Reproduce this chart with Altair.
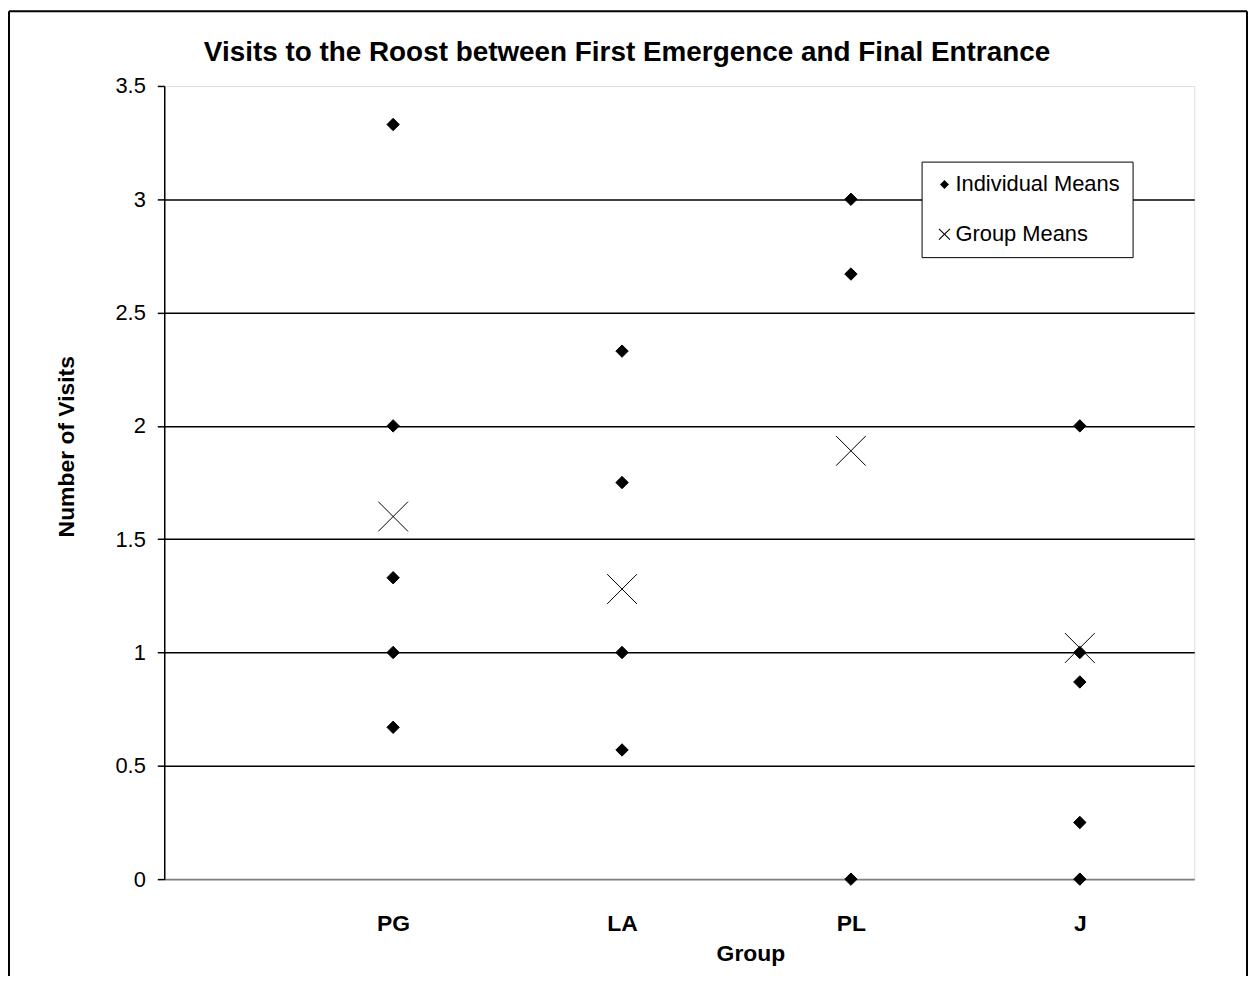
import math
import altair as alt
import pandas as pd

chart_title = "Visits to the Roost between First Emergence and Final Entrance"
groups = ["PG", "LA", "PL", "J"]
group_pos = [1, 2, 3, 4]
pg_vals = [3.33, 2.0, 1.33, 1.0, 0.67]
la_vals = [2.33, 1.75, 1.0, 0.57]
pl_vals = [3.0, 2.67, 0.0]
j_vals = [2.0, 1.0, 0.87, 0.25, 0.0]
group_means = [1.6, 1.28, 1.89, 1.02]
series_names = ["Individual Means", "Group Means"]
y_ticks = [0, 0.5, 1, 1.5, 2, 2.5, 3, 3.5]

rows = []
for pos, vals in zip(group_pos, [pg_vals, la_vals, pl_vals, j_vals]):
    for v in vals:
        rows.append({"x": pos, "y": v, "series": series_names[0], "key": series_names[0]})
for pos, m in zip(group_pos, group_means):
    rows.append({"x": pos, "y": m, "series": series_names[1], "key": series_names[1]})
df = pd.DataFrame(rows)

FONT = "Liberation Sans"
X_PATH = "M-2.4,-2.4L2.4,2.4M-2.4,2.4L2.4,-2.4"
LEG_DIAMOND = "M-0.9,0L0,-0.9L0.9,0L0,0.9Z"


def x_polygon(tip, half_t):
    L = tip * math.sqrt(2)
    t = half_t
    plus = [(t, t), (L, t), (L, -t), (t, -t), (t, -L), (-t, -L), (-t, -t),
            (-L, -t), (-L, t), (-t, t), (-t, L), (t, L)]
    pts = [((px - py) / math.sqrt(2), (px + py) / math.sqrt(2)) for px, py in plus]
    return "M" + "L".join("%.3f,%.3f" % p for p in pts) + "Z"


LEG_X = x_polygon(1.1, 0.11)

label_expr = "['', " + ", ".join("'%s'" % g for g in groups) + "][datum.value]"

x_enc = alt.X(
    "x:Q",
    scale=alt.Scale(domain=[0, 4.5], nice=False, zero=False),
    axis=alt.Axis(
        values=group_pos,
        labelExpr=label_expr,
        grid=False,
        ticks=False,
        tickSize=0,
        domainColor="#808080",
        domainWidth=2,
        labelFont=FONT,
        labelFontSize=23,
        labelFontWeight="bold",
        labelColor="black",
        labelBaseline="alphabetic",
        labelPadding=52,
        title="Group",
        titleFont=FONT,
        titleFontSize=23,
        titleFontWeight="bold",
        titleColor="black",
        titleX=589,
        titleY=82,
        titleBaseline="alphabetic",
        titleAlign="center",
    ),
)
y_enc = alt.Y(
    "y:Q",
    scale=alt.Scale(domain=[0, 3.5], nice=False),
    axis=alt.Axis(
        values=y_ticks,
        format="~g",
        grid=True,
        gridColor="black",
        gridWidth=1.5,
        gridOpacity={
            "condition": {"test": "datum.value === 0 || datum.value === 3.5", "value": 0},
            "value": 1,
        },
        domainColor="black",
        domainWidth=1.5,
        tickColor="black",
        tickSize=7,
        tickWidth=1.5,
        labelFont=FONT,
        labelFontSize=22,
        labelColor="black",
        labelPadding=12,
        title="Number of Visits",
        titleFont=FONT,
        titleFontSize=23,
        titleFontWeight="bold",
        titleColor="black",
        titleX=-98,
        titleY=362,
        titleBaseline="middle",
        titleAlign="center",
    ),
)

points = alt.Chart(df).mark_point(
    filled=True, fill="black", stroke="black", strokeWidth=1, size=155, opacity=1
).encode(
    x=x_enc,
    y=y_enc,
    shape=alt.Shape(
        "series:N",
        scale=alt.Scale(domain=series_names, range=["diamond", X_PATH]),
        legend=None,
    ),
)

legend_layer = alt.Chart(df).transform_filter("false").mark_point(
    filled=True, fill="black", size=100, opacity=1
).encode(
    x=alt.X("x:Q"),
    y=alt.Y("y:Q"),
    shape=alt.Shape(
        "key:N",
        scale=alt.Scale(domain=series_names, range=[LEG_DIAMOND, LEG_X]),
        legend=alt.Legend(
            title=None,
            orient="none",
            legendX=761,
            legendY=76,
            padding=12,
            strokeColor="black",
            fillColor="white",
            labelFont=FONT,
            labelFontSize=22,
            labelColor="black",
            labelOffset=0,
            labelLimit=400,
            rowPadding=28,
            symbolSize=100,
            symbolOpacity=1,
            symbolFillColor="black",
        ),
    ),
)

title_df = pd.DataFrame({"t": [chart_title]})
title_layer = alt.Chart(title_df).mark_text(
    font=FONT, fontSize=28, fontWeight="bold", color="black",
    align="center", baseline="alphabetic"
).encode(
    text="t:N", x=alt.value(465), y=alt.value(-25)
)

border_df = pd.DataFrame({"a": [0]})
top_rule = alt.Chart(border_df).mark_rule(color="black", strokeWidth=2).encode(
    x=alt.value(-156), x2=alt.value(1088), y=alt.value(-75)
)
left_rule = alt.Chart(border_df).mark_rule(color="black", strokeWidth=2).encode(
    x=alt.value(-156), y=alt.value(-75), y2=alt.value(900)
)
right_rule = alt.Chart(border_df).mark_rule(color="black", strokeWidth=2).encode(
    x=alt.value(1088), y=alt.value(-75), y2=alt.value(900)
)

chart = alt.layer(
    points, legend_layer, title_layer, top_rule, left_rule, right_rule
).resolve_scale(
    shape="independent"
).resolve_legend(
    shape="independent"
).properties(
    width=1035,
    height=797,
    autosize=alt.AutoSizeParams(type="none"),
    padding={"left": 157, "top": 76, "right": 56, "bottom": 95},
).configure_view(
    stroke="#808080", strokeWidth=2
).configure(background="white")

chart.save("out.html", embed_options={"renderer": "svg", "actions": False})
